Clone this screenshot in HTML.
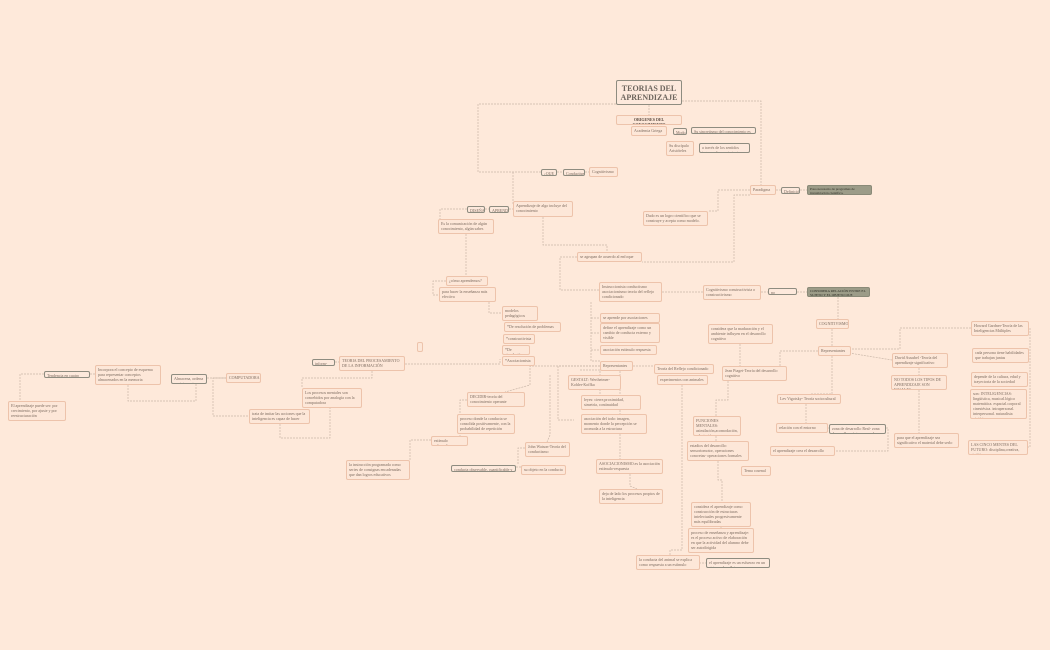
<!DOCTYPE html>
<html><head><meta charset="utf-8"><style>
body{margin:0;width:1050px;height:650px;background:#fee9da;position:relative;overflow:hidden}
.n{position:absolute;border:1px solid #edc3ab;background:#fde7d8;border-radius:2px;font:4px/5px "Liberation Serif",serif;color:#7d6c60;padding:1px 2px;box-sizing:border-box;overflow:hidden}
.g{border-color:#8e8c80;background:#fde9dc}
.d{background:#9c9c88;border-color:#8a8a78;color:#2e2e26;font-size:3.5px;line-height:4px}
svg{position:absolute;left:0;top:0}
</style></head><body>
<svg width="1050" height="650" fill="none" stroke="#c9b6a8" stroke-width="0.7" stroke-dasharray="2,1">
<polyline points="616,104 478,104 478,172 541,172"/>
<polyline points="682,101 761,101 761,185"/>
<polyline points="649,105 649,115"/>
<polyline points="557,172 563,172"/><polyline points="585,172 589,172"/>
<polyline points="513,172 513,205"/>
<polyline points="485,209 489,209"/><polyline points="509,209 513,209"/>
<polyline points="467,209 440,209 440,219"/>
<polyline points="466,234 466,276"/>
<polyline points="543,217 543,245 607,245 607,252"/>
<polyline points="577,257 560,257 560,290 599,290"/>
<polyline points="750,195 734,195 734,262 642,262"/>
<polyline points="750,190 718,190 718,211 708,211"/>
<polyline points="776,190 781,190"/><polyline points="800,190 807,190"/>
<polyline points="662,292 703,292"/><polyline points="761,292 768,292"/><polyline points="797,292 807,292"/>
<polyline points="838,297 838,319"/><polyline points="832,329 832,346"/>
<polyline points="489,302 489,313 502,313"/>
<polyline points="446,281 433,281 433,295 439,295"/>
<polyline points="405,364 500,364 500,359"/>
<polyline points="335,362 339,362"/>
<polyline points="372,371 372,378 302,378 302,388"/>
<polyline points="591,302 591,361 600,361"/>
<polyline points="591,318 600,318"/><polyline points="591,333 600,333"/><polyline points="591,350 600,350"/>
<polyline points="633,366 654,366"/>
<polyline points="682,385 682,550 670,550 670,555"/>
<polyline points="600,366 558,366 558,420 574,420"/>
<polyline points="580,370 600,370 600,400 581,400"/>
<polyline points="600,370 620,370 620,459"/>
<polyline points="550,375 550,435 547,442"/>
<polyline points="600,366 530,366 530,385 505,392"/>
<polyline points="818,351 780,351 780,366"/>
<polyline points="832,356 832,394 810,394"/>
<polyline points="849,349 900,349 900,328 971,328"/>
<polyline points="849,353 892,360"/>
<polyline points="1027,328 1030,328 1030,447 1028,447"/>
<polyline points="740,344 740,366"/>
<polyline points="728,381 728,400 716,400 716,416"/>
<polyline points="716,436 716,441"/>
<polyline points="718,461 718,480 722,480 722,502"/>
<polyline points="806,404 806,423"/>
<polyline points="828,428 829,428"/><polyline points="886,428 888,428 888,451 835,451"/>
<polyline points="919,368 919,375"/><polyline points="919,390 919,433"/>
<polyline points="44,374 20,374 20,401"/>
<polyline points="90,374 95,374"/>
<polyline points="128,385 128,401 196,401 196,384"/>
<polyline points="207,378 226,378"/>
<polyline points="226,378 213,378 213,416 249,416"/>
<polyline points="280,424 280,438 330,438 330,408"/>
<polyline points="467,400 460,400 460,436"/>
<polyline points="431,440 410,440 410,460"/>
<polyline points="516,467 521,467"/>
<polyline points="525,448 518,448 518,465"/>
<polyline points="630,474 630,486 637,489"/>
<polyline points="699,563 706,563"/>
<polyline points="721,527 721,528"/>
</svg>
<div class="n g" style="left:616px;top:80px;width:66px;height:25px;font:bold 8px/9px 'Liberation Serif',serif;color:#6d655d;text-align:center;padding-top:3px">TEORIAS DEL APRENDIZAJE</div>
<div class="n" style="left:616px;top:115px;width:66px;height:10px;font-weight:bold;text-align:center;color:#5a4a40">ORIGENES DEL CONOCIMIENTO</div>
<div class="n" style="left:631px;top:126px;width:36px;height:10px">Academia Griega</div>
<div class="n g" style="left:673px;top:128px;width:14px;height:7px">Modo</div>
<div class="n g" style="left:691px;top:127px;width:65px;height:7px">Su sincretismo del conocimiento es innatista</div>
<div class="n" style="left:666px;top:141px;width:28px;height:15px">Su discípulo Aristóteles</div>
<div class="n g" style="left:699px;top:143px;width:51px;height:10px">a través de los sentidos ingresa el conocimiento.</div>
<div class="n g" style="left:541px;top:169px;width:16px;height:7px">¿QUE ES?</div>
<div class="n g" style="left:563px;top:169px;width:22px;height:7px">Conductismo</div>
<div class="n" style="left:589px;top:167px;width:29px;height:10px">Cognitivismo</div>
<div class="n" style="left:750px;top:185px;width:26px;height:10px">Paradigma</div>
<div class="n g" style="left:781px;top:187px;width:19px;height:7px">Definición</div>
<div class="n d" style="left:807px;top:185px;width:65px;height:10px">Paso necesario de programas de investigación científica.</div>
<div class="n" style="left:643px;top:211px;width:65px;height:15px">Dado es un logro científico que se construye y acepta como modelo.</div>
<div class="n g" style="left:467px;top:206px;width:18px;height:7px">DISEÑAR</div>
<div class="n g" style="left:489px;top:206px;width:20px;height:7px">APRENDER</div>
<div class="n" style="left:513px;top:201px;width:60px;height:16px">Aprendizaje de algo incluye del conocimiento</div>
<div class="n" style="left:438px;top:219px;width:56px;height:15px">Es la comunicación de algún conocimiento, algún saber.</div>
<div class="n" style="left:577px;top:252px;width:65px;height:10px">se agrupan de acuerdo al enfoque</div>
<div class="n" style="left:446px;top:276px;width:42px;height:10px">¿cómo aprendemos?</div>
<div class="n" style="left:439px;top:287px;width:57px;height:15px">para hacer la enseñanza más efectiva</div>
<div class="n" style="left:599px;top:282px;width:63px;height:20px">Instruccionista conductismo asociacionismo teoría del reflejo condicionado</div>
<div class="n" style="left:703px;top:285px;width:58px;height:15px">Cognitivismo constructivista o constructivismo</div>
<div class="n g" style="left:768px;top:288px;width:29px;height:7px">no conductista</div>
<div class="n d" style="left:807px;top:287px;width:63px;height:10px">CONSIDERA RELACIÓN ENTRE EL SUJETO Y EL OBJETO QUE PRODUCE LA RESPUESTA</div>
<div class="n" style="left:502px;top:306px;width:36px;height:15px">modelos pedagógicos</div>
<div class="n" style="left:504px;top:322px;width:57px;height:10px">*De resolución de problemas</div>
<div class="n" style="left:503px;top:334px;width:32px;height:10px">*constructivista</div>
<div class="n" style="left:502px;top:345px;width:28px;height:10px">*De simulación</div>
<div class="n" style="left:502px;top:356px;width:33px;height:10px">*Asociacionista</div>
<div class="n" style="left:600px;top:313px;width:60px;height:10px">se aprende por asociaciones</div>
<div class="n" style="left:600px;top:323px;width:60px;height:20px">define el aprendizaje como un cambio de conducta externo y visible</div>
<div class="n" style="left:600px;top:345px;width:57px;height:10px">asociación estímulo respuesta</div>
<div class="n" style="left:417px;top:342px;width:6px;height:10px"></div>
<div class="n" style="left:339px;top:356px;width:66px;height:15px">TEORIA DEL PROCESAMIENTO DE LA INFORMACIÓN</div>
<div class="n g" style="left:312px;top:359px;width:23px;height:7px">inform-ingeni</div>
<div class="n" style="left:600px;top:361px;width:33px;height:10px">Representantes</div>
<div class="n" style="left:654px;top:364px;width:60px;height:10px">Teoría del Reflejo condicionado</div>
<div class="n" style="left:657px;top:375px;width:51px;height:10px">experimentos con animales</div>
<div class="n" style="left:568px;top:375px;width:53px;height:15px">GESTALT: Wertheimer-Kohler-Koffka</div>
<div class="n" style="left:816px;top:319px;width:33px;height:10px">COGNITIVISMO</div>
<div class="n" style="left:818px;top:346px;width:33px;height:10px">Representantes</div>
<div class="n" style="left:708px;top:324px;width:65px;height:20px">considera que la maduración y el ambiente influyen en el desarrollo cognitivo</div>
<div class="n" style="left:722px;top:366px;width:65px;height:15px">Jean Piaget-Teoría del desarrollo cognitivo</div>
<div class="n" style="left:971px;top:321px;width:58px;height:15px">Howard Gardner-Teoría de las Inteligencias Múltiples</div>
<div class="n" style="left:972px;top:348px;width:57px;height:15px">cada persona tiene habilidades que trabajan juntas</div>
<div class="n" style="left:892px;top:353px;width:56px;height:15px">David Ausubel -Teoría del aprendizaje significativo</div>
<div class="n" style="left:891px;top:375px;width:56px;height:15px">NO TODOS LOS TIPOS DE APRENDIZAJE SON IGUALES</div>
<div class="n" style="left:971px;top:372px;width:57px;height:15px">depende de la cultura, edad y trayectoria de la sociedad</div>
<div class="n" style="left:970px;top:389px;width:57px;height:30px">son: INTELIGENCIAS: lingüística, musical.lógico matemática. espacial.corporal cinestésica. intrapersonal. interpersonal. naturalista pictórica.</div>
<div class="n" style="left:777px;top:394px;width:64px;height:10px">Lev Vigotsky- Teoría sociocultural</div>
<div class="n" style="left:776px;top:423px;width:52px;height:10px">relación con el entorno</div>
<div class="n g" style="left:829px;top:424px;width:57px;height:10px">zona de desarrollo Real- zona desarrollo próximo zona de desarrollo potencial</div>
<div class="n" style="left:894px;top:433px;width:65px;height:15px">para que el aprendizaje sea significativo el material debe serlo</div>
<div class="n" style="left:968px;top:440px;width:60px;height:15px">LAS CINCO MENTES DEL FUTURO: disciplina,creativa, sintético</div>
<div class="n" style="left:770px;top:446px;width:65px;height:10px">el aprendizaje crea el desarrollo</div>
<div class="n" style="left:693px;top:416px;width:48px;height:20px">FUNCIONES MENTALES: asimilación,acomodación, adaptación</div>
<div class="n" style="left:687px;top:441px;width:62px;height:20px">estadios del desarrollo: sensoriomotor, operaciones concretas- operaciones formales</div>
<div class="n" style="left:741px;top:466px;width:30px;height:10px">Tema cosenal</div>
<div class="n g" style="left:44px;top:371px;width:46px;height:7px">Tendencia en cuatro fases</div>
<div class="n" style="left:95px;top:365px;width:66px;height:20px">Incorpora el concepto de esquema para representar conceptos almacenados en la memoria</div>
<div class="n g" style="left:171px;top:374px;width:36px;height:10px">Almacena, ordena y reinterpreta información en su medio</div>
<div class="n" style="left:226px;top:373px;width:35px;height:10px">COMPUTADORA</div>
<div class="n" style="left:8px;top:401px;width:58px;height:20px">El aprendizaje puede ser: por crecimiento, por ajuste y por reestructuración</div>
<div class="n" style="left:302px;top:388px;width:60px;height:20px">Los procesos mentales son concebidos por analogía con la computadora</div>
<div class="n" style="left:249px;top:409px;width:61px;height:15px">trata de imitar las acciones que la inteligencia es capaz de hacer</div>
<div class="n" style="left:467px;top:392px;width:58px;height:15px">DECIDIR-teoría del conocimiento operante</div>
<div class="n" style="left:457px;top:414px;width:58px;height:20px">proceso donde la conducta se consolida positivamente, con la probabilidad de repetición</div>
<div class="n" style="left:431px;top:436px;width:37px;height:10px">estímulo reforzador</div>
<div class="n" style="left:596px;top:459px;width:67px;height:15px">ASOCIACIONISMO.es la asociación estímulo-respuesta</div>
<div class="n" style="left:599px;top:489px;width:64px;height:15px">deja de lado los procesos propios de la inteligencia</div>
<div class="n" style="left:581px;top:395px;width:60px;height:15px">leyes: cierre,proximidad, simetría, continuidad</div>
<div class="n" style="left:581px;top:414px;width:66px;height:20px">asociación del todo: imagen, momento donde la percepción se acomoda a la estructura</div>
<div class="n" style="left:525px;top:442px;width:45px;height:15px">John Watson-Teoría del conductismo</div>
<div class="n g" style="left:451px;top:465px;width:65px;height:7px">conducta observable, cuantificable y medible</div>
<div class="n" style="left:521px;top:465px;width:45px;height:10px">su objeto en la conducta</div>
<div class="n" style="left:346px;top:460px;width:64px;height:20px">la instrucción programada como series de consignas encadenadas que dan logros educativos</div>
<div class="n" style="left:691px;top:502px;width:60px;height:25px">considera el aprendizaje como construcción de estructuras intelectuales progresivamente más equilibradas</div>
<div class="n" style="left:688px;top:528px;width:66px;height:25px">proceso de enseñanza y aprendizaje: es el proceso activo de elaboración en que la actividad del alumno debe ser autodirigida</div>
<div class="n" style="left:636px;top:555px;width:64px;height:15px">la conducta del animal se explica como respuesta a un estímulo</div>
<div class="n g" style="left:706px;top:558px;width:64px;height:10px">el aprendizaje es un esfuerzo en un sistema de reflejo</div>
</body></html>
